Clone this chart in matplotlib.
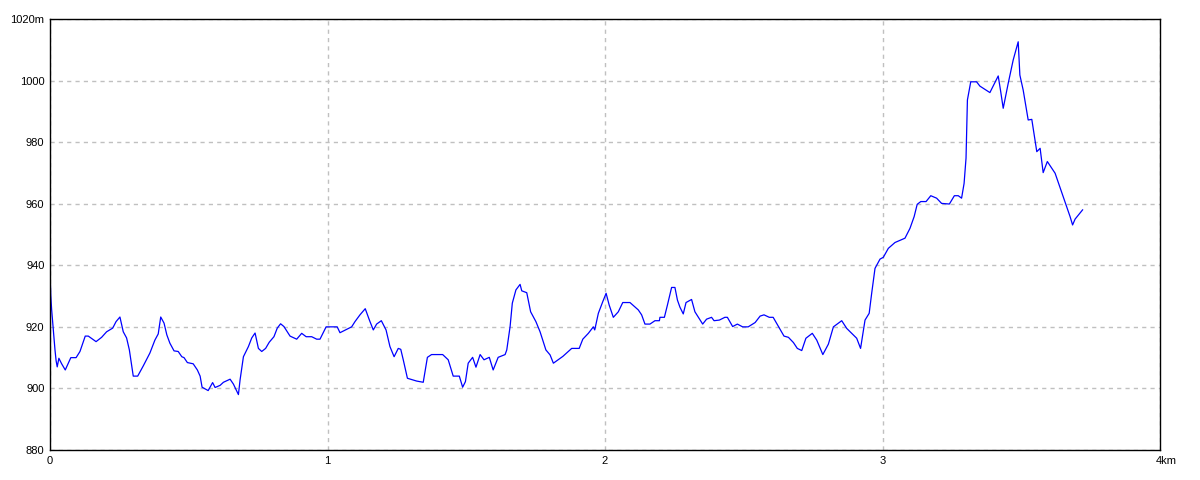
import matplotlib
matplotlib.use("Agg")
import matplotlib.pyplot as plt
from matplotlib.transforms import ScaledTranslation

plt.rcParams['font.family'] = ['Liberation Sans', 'DejaVu Sans']

distance_km = [
    0.000, 0.003, 0.006, 0.010, 0.014, 0.018, 0.022, 0.026, 0.032, 0.042,
    0.055, 0.075, 0.094, 0.108, 0.127, 0.138, 0.166, 0.186, 0.204, 0.226,
    0.238, 0.252, 0.264, 0.276, 0.286, 0.300, 0.316, 0.336, 0.360, 0.378,
    0.390, 0.399, 0.411, 0.421, 0.432, 0.447, 0.462, 0.475, 0.483, 0.495,
    0.516, 0.531, 0.541, 0.548, 0.570, 0.586, 0.595, 0.613, 0.625, 0.649,
    0.661, 0.679, 0.685, 0.697, 0.715, 0.727, 0.739, 0.751, 0.763, 0.777,
    0.790, 0.807, 0.819, 0.831,
    0.843, 0.865, 0.889, 0.907, 0.923, 0.943, 0.961, 0.973, 0.995, 1.035,
    1.045, 1.087, 1.099, 1.117, 1.136, 1.151, 1.165, 1.177, 1.194, 1.211,
    1.225, 1.240, 1.255, 1.264, 1.273, 1.288, 1.321, 1.345, 1.360, 1.375,
    1.415, 1.435, 1.453, 1.475, 1.487, 1.497, 1.507, 1.523, 1.535, 1.550,
    1.564, 1.583, 1.597, 1.615, 1.640, 1.646, 1.658, 1.666, 1.679, 1.694,
    1.700, 1.718, 1.732, 1.751, 1.766, 1.787, 1.802, 1.814, 1.848,
    1.880, 1.907, 1.920, 1.940, 1.958, 1.963, 1.976, 1.992, 2.004, 2.015,
    2.030, 2.048, 2.064, 2.090, 2.120, 2.132, 2.144, 2.162, 2.180, 2.196,
    2.198, 2.214, 2.225, 2.240, 2.252, 2.261, 2.270, 2.282, 2.292, 2.312,
    2.324, 2.352, 2.366, 2.384, 2.393, 2.412, 2.432, 2.441, 2.460, 2.477,
    2.496, 2.516, 2.541, 2.559, 2.573, 2.592, 2.606, 2.624, 2.645, 2.661,
    2.679, 2.693, 2.709, 2.724, 2.747, 2.763, 2.785, 2.805, 2.823, 2.853,
    2.871, 2.907, 2.921, 2.937, 2.952, 2.961, 2.973, 2.991, 3.003, 3.021,
    3.045, 3.081, 3.099, 3.114, 3.125, 3.138, 3.157, 3.174, 3.195, 3.213,
    3.241, 3.259, 3.273, 3.285, 3.294, 3.301, 3.306, 3.318, 3.339, 3.351,
    3.387, 3.417, 3.426, 3.435, 3.453, 3.471, 3.489, 3.495, 3.507, 3.517,
    3.525, 3.538, 3.556, 3.568, 3.579, 3.594, 3.622, 3.649, 3.676, 3.685,
    3.694, 3.721,
]

elevation_m = [
    937.5, 929.8, 925.5, 921.0, 916.8, 912.5, 909.0, 907.0, 909.8, 908.0,
    906.0, 910.0, 910.0, 912.0, 917.0, 917.0, 915.2, 916.6, 918.4, 919.6,
    921.7, 923.2, 918.4, 916.4, 912.5, 904.0, 904.0, 907.3, 911.5, 915.7,
    917.7, 923.2, 921.2, 917.4, 914.7, 912.2, 912.0, 910.3, 910.0, 908.4,
    908.0, 906.0, 904.0, 900.4, 899.3, 901.9, 900.3, 901.0, 902.0, 903.0,
    901.4, 898.0, 902.8, 910.3, 913.6, 916.4, 918.0, 913.0, 912.0, 913.0,
    915.0, 916.8, 919.6, 921.0,
    920.1, 917.0, 916.0, 917.9, 916.8, 916.8, 916.0, 916.0, 920.0, 920.0,
    918.1, 920.0, 921.7, 923.9, 925.9, 922.2, 919.0, 920.9, 922.0, 919.0,
    913.6, 910.3, 913.0, 912.7, 909.3, 903.3, 902.4, 902.0, 910.1, 911.0,
    911.0, 909.3, 904.0, 904.0, 900.4, 902.2, 908.2, 910.1, 906.9, 911.0,
    909.3, 910.1, 906.0, 910.1, 911.0, 912.5, 920.1, 927.7, 932.0, 933.8,
    931.7, 931.1, 924.9, 921.7, 918.4, 912.5, 910.9, 908.2, 910.4,
    913.0, 913.0, 916.0, 917.9, 920.0, 919.0, 924.4, 928.2, 930.9, 927.1,
    923.1, 924.9, 927.9, 927.9, 925.5, 923.9, 920.9, 920.9, 922.0, 922.0,
    923.1, 923.1, 927.1, 932.8, 932.8, 928.7, 926.4, 924.2, 927.9, 928.9,
    924.9, 920.9, 922.5, 923.1, 922.0, 922.2, 923.1, 923.1, 920.1, 920.9,
    920.0, 920.0, 921.4, 923.5, 923.9, 923.1, 923.1, 920.3, 917.0, 916.6,
    914.9, 913.0, 912.3, 916.3, 917.9, 915.7, 911.0, 914.4, 920.0, 922.0,
    919.5, 916.3, 913.0, 922.2, 924.4, 930.9, 939.0, 942.0, 942.6, 945.5,
    947.4, 948.8, 952.0, 955.8, 959.8, 960.7, 960.7, 962.6, 961.8, 960.1,
    959.9, 962.6, 962.6, 961.8, 966.6, 974.8, 993.7, 999.6, 999.6, 998.2,
    996.1, 1001.5, 996.4, 991.0, 999.1, 1006.7, 1012.6, 1001.8, 996.9, 991.5,
    987.2, 987.4, 976.9, 978.0, 970.1, 973.7, 969.9, 962.8, 955.8, 953.1,
    955.0, 958.0,
]

x_ticks = [0, 1, 2, 3, 4]
x_tick_labels = ["0", "1", "2", "3", "4km"]
y_ticks = [880, 900, 920, 940, 960, 980, 1000, 1020]
y_tick_labels = ["880", "900", "920", "940", "960", "980", "1000", "1020m"]

fig = plt.figure(figsize=(12, 4.8), dpi=100)
ax = fig.add_axes([50 / 1200, 30 / 480, 1110 / 1200, 431 / 480])

ax.plot(distance_km, elevation_m, color="#0000ff", linewidth=0.9)

ax.set_xlim(0, 4)
ax.set_ylim(880, 1020)
ax.set_xticks(x_ticks)
ax.set_xticklabels(x_tick_labels)
ax.set_yticks(y_ticks)
ax.set_yticklabels(y_tick_labels)
ax.tick_params(axis="both", length=0, labelsize=8, colors="black", pad=4)
ax.grid(True, color="#c0c0c0", linestyle=(0, (3, 3)), linewidth=1.0)
ax.set_axisbelow(True)
for s in ax.spines.values():
    s.set_color("black")
    s.set_linewidth(1.0)

# shift the "4km" label so the digit sits on the tick
lab = ax.get_xticklabels()[-1]
lab.set_horizontalalignment("left")
lab.set_transform(lab.get_transform() + ScaledTranslation(-4 / 100, 0, fig.dpi_scale_trans))

fig.savefig("out.png", dpi=100)
